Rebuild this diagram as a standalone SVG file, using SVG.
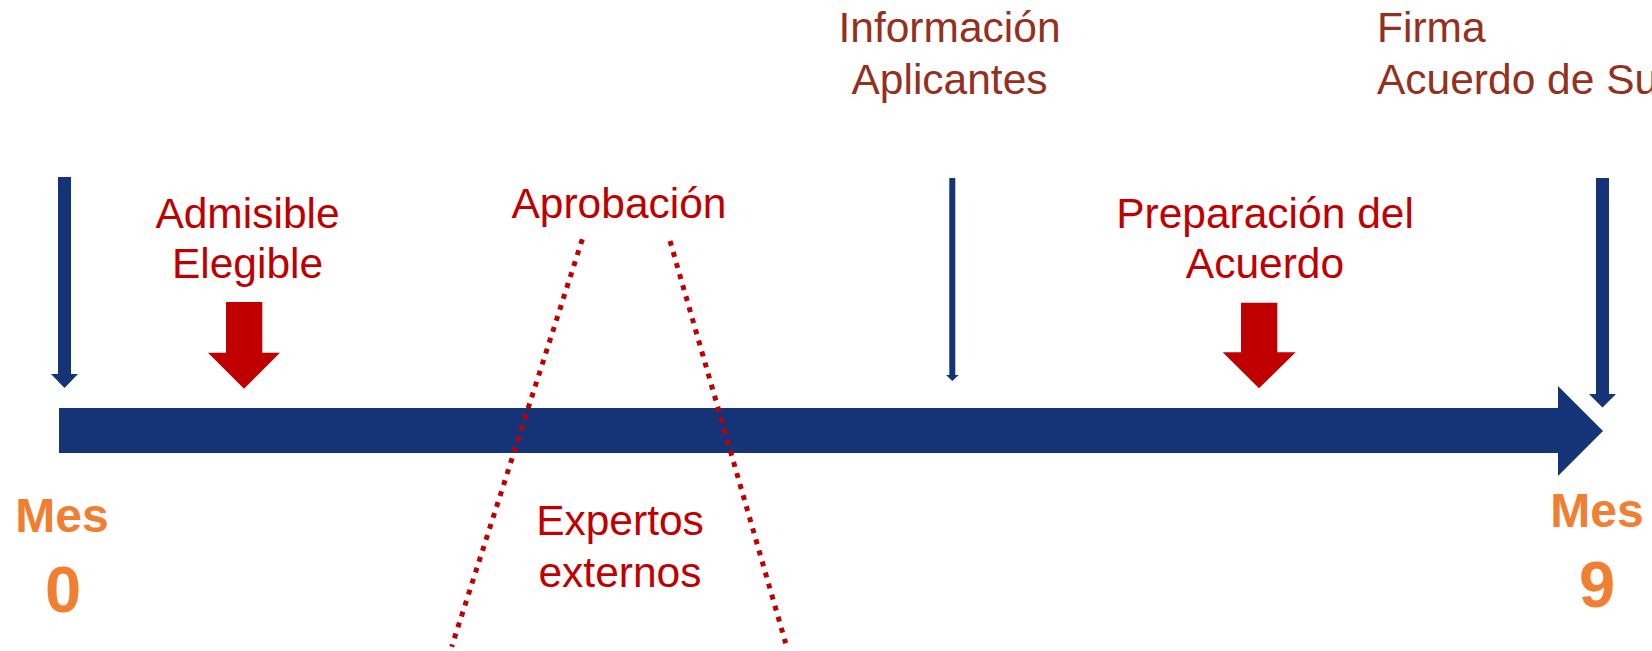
<svg xmlns="http://www.w3.org/2000/svg" width="1652" height="651" viewBox="0 0 1652 651">
<style>
.lbl{font-family:"Liberation Sans",Arial,sans-serif;font-size:42.5px;fill:#C00000;text-anchor:middle}
.top{font-family:"Liberation Sans",Arial,sans-serif;font-size:42.5px;fill:#94301E}
.mes{font-family:"Liberation Sans",Arial,sans-serif;font-weight:bold;fill:#F07F32;text-anchor:middle}
.blue{fill:#143477}
.red{fill:#C00000}
.dot{stroke:#C00000;stroke-width:5;stroke-dasharray:5 6.5;fill:none}
</style>
<g id="timeline">
<path class="blue" d="M59 408 H1558 V386 L1603 431 L1558 476 V453 H59 Z"/>
</g>
<g id="connectors">
<path id="arrow-mes0" class="blue" d="M58 177 H71 V374 H78 L64.5 388 L51 374 H58 Z"/>
<path id="arrow-info" class="blue" d="M949.3 178 H955.3 V375 H958.7 L952.3 381 L946 375 H949.3 Z"/>
<path id="arrow-mes9" class="blue" d="M1596 178 H1609 V394 H1616 L1602.5 407.5 L1589 394 H1596 Z"/>
<path id="red-arrow-1" class="red" d="M226 302 H262.3 V352.7 H280 L244 388.7 L208 352.7 H226 Z"/>
<path id="red-arrow-2" class="red" d="M1241 302.7 H1277.3 V352.3 H1295.7 L1259 388.3 L1222.7 352.3 H1241 Z"/>
<line class="dot" x1="582.3" y1="239.3" x2="451.7" y2="646.7"/>
<line class="dot" x1="670" y1="241" x2="785.7" y2="643.3"/>
</g>
<g id="admisible">
<text class="lbl" x="247.5" y="228.3">Admisible</text>
<text class="lbl" x="247.5" y="278.3">Elegible</text>
</g>
<g id="aprobacion">
<text class="lbl" x="619" y="218.3">Aprobación</text>
</g>
<g id="expertos">
<text class="lbl" x="620" y="535">Expertos</text>
<text class="lbl" x="620" y="586.7">externos</text>
</g>
<g id="informacion">
<text class="top" x="949.5" y="42.3" text-anchor="middle">Información</text>
<text class="top" x="949.5" y="94" text-anchor="middle">Aplicantes</text>
</g>
<g id="preparacion">
<text class="lbl" x="1265" y="227.7">Preparación del</text>
<text class="lbl" x="1265" y="278.3">Acuerdo</text>
</g>
<g id="firma">
<text class="top" x="1377" y="42.3">Firma</text>
<text class="top" x="1377" y="94.3">Acuerdo de Su</text>
</g>
<g id="mes0">
<text class="mes" x="62" y="531.7" font-size="48">Mes</text>
<text class="mes" x="63" y="611.7" font-size="65">0</text>
</g>
<g id="mes9">
<text class="mes" x="1597" y="526.7" font-size="48">Mes</text>
<text class="mes" x="1597" y="606.7" font-size="65">9</text>
</g>
</svg>
